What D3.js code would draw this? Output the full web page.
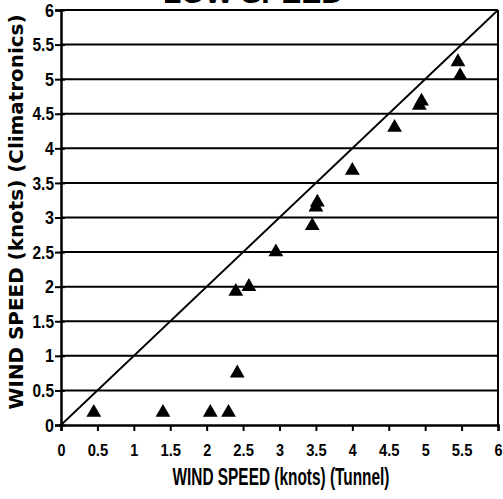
<!DOCTYPE html>
<html>
<head>
<meta charset="utf-8">
<script src="https://cdn.jsdelivr.net/npm/d3@7"></script>
<style>
  html, body { margin: 0; padding: 0; background: #fff; }
  svg { display: block; }
</style>
</head>
<body>
<svg id="chart" width="503" height="499"></svg>
<script>
// Tunnel reference speed vs. Climatronics reading, low speed runs
const tunnelSpeed = [0.45, 1.4, 2.05, 2.3, 2.42, 2.4, 2.58, 2.95, 3.45, 3.5, 3.52, 4.0, 4.58, 4.92, 4.95, 5.45, 5.48];
const climatronicsSpeed = [0.18, 0.18, 0.18, 0.18, 0.75, 1.93, 2.0, 2.5, 2.88, 3.15, 3.22, 3.68, 4.3, 4.62, 4.68, 5.25, 5.05];
const tickValues = [0, 0.5, 1, 1.5, 2, 2.5, 3, 3.5, 4, 4.5, 5, 5.5, 6];
const tickLabels = ["0", "0.5", "1", "1.5", "2", "2.5", "3", "3.5", "4", "4.5", "5", "5.5", "6"];
const titleText = "LOW SPEED";
const xTitle = "WIND SPEED (knots) (Tunnel)";
const yTitle = "WIND SPEED (knots) (Climatronics)";

const svg = d3.select("#chart");
const plot = { left: 61, right: 498, top: 10, bottom: 425 };

const x = d3.scaleLinear().domain([0, 6]).range([plot.left, plot.right]);
const y = d3.scaleLinear().domain([0, 6]).range([plot.bottom, plot.top]);

const sans = "'Liberation Sans', Arial, sans-serif";
// condensed width for a numeric label: digits narrow, decimal point narrower
const labelWidth = s => [...s].reduce((w, c) => w + (c === "." ? 4.5 : 8), 0);

// horizontal grid lines
svg.append("g").selectAll("line")
  .data(tickValues.filter(v => v > 0))
  .join("line")
  .attr("x1", plot.left).attr("x2", plot.right)
  .attr("y1", d => y(d)).attr("y2", d => y(d))
  .attr("stroke", "#000").attr("stroke-width", 2);

// right border
svg.append("line")
  .attr("x1", plot.right).attr("x2", plot.right).attr("y1", plot.top).attr("y2", plot.bottom)
  .attr("stroke", "#000").attr("stroke-width", 2);

// y axis
const yAxis = svg.append("g")
  .attr("transform", `translate(${plot.left},0)`)
  .call(d3.axisLeft(y).tickValues(tickValues).tickFormat((d, i) => tickLabels[i]).tickSize(6).tickPadding(1));
yAxis.select(".domain").attr("stroke-width", 2.5);
yAxis.selectAll(".tick line").attr("stroke-width", 2).attr("x1", 4);
yAxis.selectAll("text")
  .attr("font-family", sans).attr("font-weight", "bold").attr("font-size", 19).attr("fill", "#000")
  .attr("textLength", (d, i) => labelWidth(tickLabels[i]) + 1)
  .attr("lengthAdjust", "spacingAndGlyphs");

// x axis
const xAxis = svg.append("g")
  .attr("transform", `translate(0,${plot.bottom})`)
  .call(d3.axisBottom(x).tickValues(tickValues).tickFormat((d, i) => tickLabels[i]).tickSize(6).tickPadding(13));
xAxis.select(".domain").attr("stroke-width", 2.5);
xAxis.selectAll(".tick line").attr("stroke-width", 2);
xAxis.selectAll("text")
  .attr("font-family", sans).attr("font-weight", "bold").attr("font-size", 17).attr("fill", "#000")
  .attr("textLength", (d, i) => labelWidth(tickLabels[i]))
  .attr("lengthAdjust", "spacingAndGlyphs");

// 1:1 reference line
svg.append("line")
  .attr("x1", x(0)).attr("y1", y(0)).attr("x2", x(6)).attr("y2", y(6))
  .attr("stroke", "#000").attr("stroke-width", 1.8);

// observations
const tri = d3.symbol().type(d3.symbolTriangle).size(95);
svg.append("g").selectAll("path")
  .data(tunnelSpeed.map((v, i) => [v, climatronicsSpeed[i]]))
  .join("path")
  .attr("d", tri)
  .attr("transform", d => `translate(${x(d[0])},${y(d[1])})`)
  .attr("fill", "#000");

// titles
svg.append("text")
  .attr("x", 253).attr("y", 3)
  .attr("text-anchor", "middle")
  .attr("font-family", sans).attr("font-weight", "bold").attr("font-size", 28)
  .attr("textLength", 180).attr("lengthAdjust", "spacingAndGlyphs")
  .text(titleText);

svg.append("text")
  .attr("x", 281).attr("y", 485)
  .attr("text-anchor", "middle")
  .attr("font-family", sans).attr("font-weight", "bold").attr("font-size", 23)
  .attr("textLength", 217).attr("lengthAdjust", "spacingAndGlyphs")
  .text(xTitle);

svg.append("text")
  .attr("transform", "translate(23,212) rotate(-90)")
  .attr("text-anchor", "middle")
  .attr("font-family", "'DejaVu Sans', sans-serif").attr("font-weight", "bold").attr("font-size", 19)
  .attr("textLength", 395).attr("lengthAdjust", "spacingAndGlyphs")
  .text(yTitle);
</script>
</body>
</html>
